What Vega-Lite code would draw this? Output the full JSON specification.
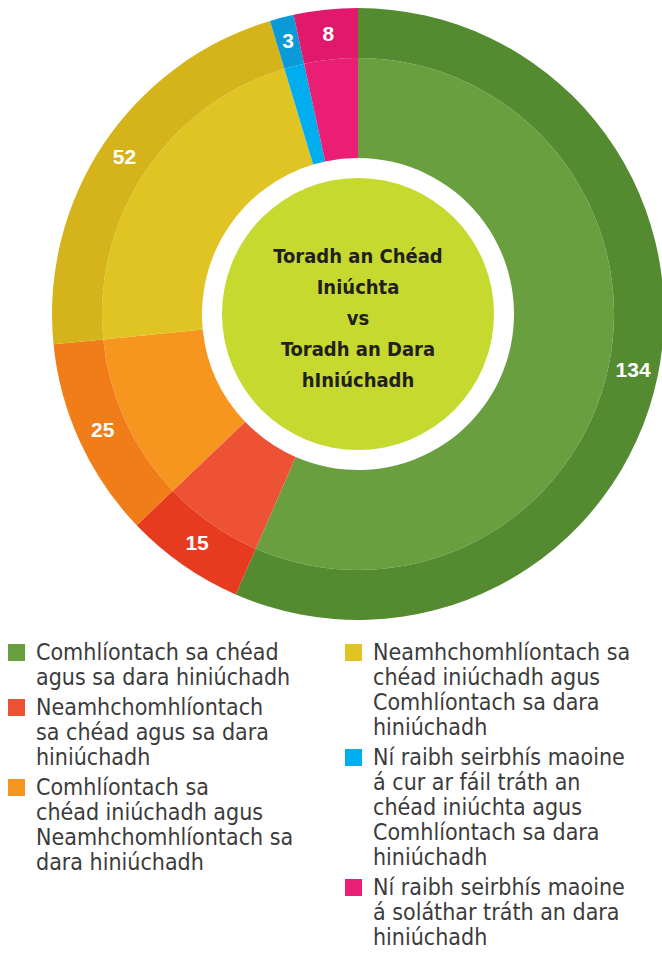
{
  "$schema": "https://vega.github.io/schema/vega-lite/v6.json",
  "width": 716,
  "height": 628,
  "padding": 0,
  "background": "white",
  "view": {"stroke": null},
  "config": {
    "legend": {
      "orient": "none",
      "direction": "vertical",
      "symbolType": "square",
      "symbolSize": 289,
      "symbolStrokeWidth": 0,
      "symbolOpacity": 1,
      "labelFont": "DejaVu Sans Condensed, Roboto, sans-serif",
      "labelFontSize": 23,
      "labelColor": "#3b3b3b",
      "labelLimit": 0,
      "labelBaseline": "middle",
      "labelOffset": 8,
      "rowPadding": 6,
      "padding": 0
    }
  },
  "datasets": {
    "results": [
      {"category": "Comhlíontach sa chéad agus sa dara hiniúchadh", "value": 134, "idx": 1},
      {"category": "Neamhchomhlíontach sa chéad agus sa dara hiniúchadh", "value": 15, "idx": 2},
      {"category": "Comhlíontach sa chéad iniúchadh agus Neamhchomhlíontach sa dara hiniúchadh", "value": 25, "idx": 3},
      {"category": "Neamhchomhlíontach sa chéad iniúchadh agus Comhlíontach sa dara hiniúchadh", "value": 52, "idx": 4},
      {"category": "Ní raibh seirbhís maoine á cur ar fáil tráth an chéad iniúchta agus Comhlíontach sa dara hiniúchadh", "value": 3, "idx": 5},
      {"category": "Ní raibh seirbhís maoine á soláthar tráth an dara hiniúchadh", "value": 8, "idx": 6}
    ],
    "centre": [
      {"title": "Toradh an Chéad Iniúchta vs Toradh an Dara hIniúchadh"}
    ]
  },
  "transform": [
    {"window": [{"op": "sum", "field": "value", "as": "end"}], "sort": [{"field": "idx", "order": "ascending"}], "frame": [null, 0]},
    {"calculate": "datum.end - datum.value", "as": "start"},
    {"calculate": "datum.end - datum.value / 2", "as": "mid"}
  ],
  "data": {"name": "results"},
  "resolve": {"scale": {"color": "independent"}, "legend": {"color": "independent"}},
  "layer": [
    {
      "transform": [{"filter": "datum.idx <= 3"}],
      "mark": {"type": "arc", "radius": 256, "radius2": 156, "stroke": null},
      "encoding": {
        "theta": {"field": "end", "type": "quantitative", "scale": {"zero": true, "nice": false}},
        "theta2": {"field": "start"},
        "color": {
          "field": "category",
          "type": "nominal",
          "scale": {
            "domain": [
              "Comhlíontach sa chéad agus sa dara hiniúchadh",
              "Neamhchomhlíontach sa chéad agus sa dara hiniúchadh",
              "Comhlíontach sa chéad iniúchadh agus Neamhchomhlíontach sa dara hiniúchadh"
            ],
            "range": ["#6a9f40", "#ee5235", "#f7961f"]
          },
          "legend": {
            "title": null,
            "legendX": 5,
            "legendY": 641,
            "labelExpr": "datum.label == 'Comhlíontach sa chéad agus sa dara hiniúchadh' ? ['Comhlíontach sa chéad', 'agus sa dara hiniúchadh'] : datum.label == 'Neamhchomhlíontach sa chéad agus sa dara hiniúchadh' ? ['Neamhchomhlíontach', 'sa chéad agus sa dara', 'hiniúchadh'] : ['Comhlíontach sa', 'chéad iniúchadh agus', 'Neamhchomhlíontach sa', 'dara hiniúchadh']"
          }
        }
      }
    },
    {
      "transform": [{"filter": "datum.idx >= 4"}],
      "mark": {"type": "arc", "radius": 256, "radius2": 156, "stroke": null},
      "encoding": {
        "theta": {"field": "end", "type": "quantitative", "scale": {"zero": true, "nice": false}},
        "theta2": {"field": "start"},
        "color": {
          "field": "category",
          "type": "nominal",
          "scale": {
            "domain": [
              "Neamhchomhlíontach sa chéad iniúchadh agus Comhlíontach sa dara hiniúchadh",
              "Ní raibh seirbhís maoine á cur ar fáil tráth an chéad iniúchta agus Comhlíontach sa dara hiniúchadh",
              "Ní raibh seirbhís maoine á soláthar tráth an dara hiniúchadh"
            ],
            "range": ["#dfc424", "#00aeef", "#e91e74"]
          },
          "legend": {
            "title": null,
            "legendX": 342,
            "legendY": 641,
            "labelExpr": "datum.label == 'Neamhchomhlíontach sa chéad iniúchadh agus Comhlíontach sa dara hiniúchadh' ? ['Neamhchomhlíontach sa', 'chéad iniúchadh agus', 'Comhlíontach sa dara', 'hiniúchadh'] : datum.label == 'Ní raibh seirbhís maoine á soláthar tráth an dara hiniúchadh' ? ['Ní raibh seirbhís maoine', 'á soláthar tráth an dara', 'hiniúchadh'] : ['Ní raibh seirbhís maoine', 'á cur ar fáil tráth an', 'chéad iniúchta agus', 'Comhlíontach sa dara', 'hiniúchadh']"
          }
        }
      }
    },
    {
      "mark": {"type": "arc", "radius": 306, "radius2": 256, "stroke": null},
      "encoding": {
        "theta": {"field": "end", "type": "quantitative", "scale": {"zero": true, "nice": false}},
        "theta2": {"field": "start"},
        "color": {
          "field": "category",
          "type": "nominal",
          "scale": {
            "domain": [
              "Comhlíontach sa chéad agus sa dara hiniúchadh",
              "Neamhchomhlíontach sa chéad agus sa dara hiniúchadh",
              "Comhlíontach sa chéad iniúchadh agus Neamhchomhlíontach sa dara hiniúchadh",
              "Neamhchomhlíontach sa chéad iniúchadh agus Comhlíontach sa dara hiniúchadh",
              "Ní raibh seirbhís maoine á cur ar fáil tráth an chéad iniúchta agus Comhlíontach sa dara hiniúchadh",
              "Ní raibh seirbhís maoine á soláthar tráth an dara hiniúchadh"
            ],
            "range": ["#548a30", "#e73b20", "#f07d18", "#d4b31b", "#0a9ad8", "#e0196a"]
          },
          "legend": null
        }
      }
    },
    {
      "mark": {"type": "text", "radius": 281, "fill": "white", "font": "Liberation Sans", "fontWeight": "bold", "fontSize": 21, "align": "center", "baseline": "middle"},
      "encoding": {
        "theta": {"field": "mid", "type": "quantitative", "scale": {"zero": true, "nice": false}},
        "text": {"field": "value", "type": "quantitative"}
      }
    },
    {
      "data": {"name": "centre"},
      "mark": {"type": "arc", "radius": 136, "theta": 0, "theta2": 6.2832, "fill": "#c5d92e", "stroke": null},
      "encoding": {}
    },
    {
      "data": {"name": "centre"},
      "mark": {"type": "text", "text": ["Toradh an Chéad", "Iniúchta", "vs", "Toradh an Dara", "hIniúchadh"], "font": "DejaVu Sans Condensed, Roboto, sans-serif", "fontWeight": "bold", "fontSize": 20, "lineHeight": 31, "dy": -57, "fill": "#231f20", "align": "center", "baseline": "middle"},
      "encoding": {}
    }
  ]
}
